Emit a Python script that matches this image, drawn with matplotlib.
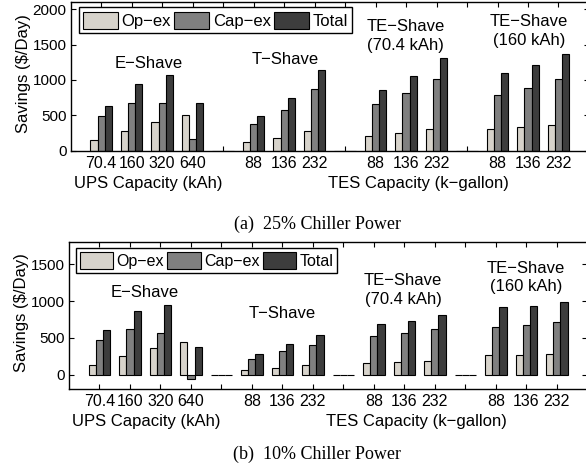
import matplotlib
matplotlib.use('Agg')
import matplotlib.pyplot as plt

plt.rcParams['font.family'] = ['Liberation Sans', 'DejaVu Sans']

# x positions 1..16, empty slots separate the schemes
tick_labels = ['70.4', '160', '320', '640', '', '88', '136', '232', '',
               '88', '136', '232', '', '88', '136', '232']
series_names = ['Op\u2212ex', 'Cap\u2212ex', 'Total']

# (a) 25% chiller power
op_a = [147, 274, 401, 505, 0, 119, 180, 274, 0, 208, 246, 307, 0, 307, 340, 368]
cap_a = [491, 670, 670, 165, 0, 378, 576, 872, 0, 660, 811, 1009, 0, 787, 886, 1009]
tot_a = [632, 943, 1066, 670, 0, 491, 745, 1141, 0, 858, 1056, 1306, 0, 1094, 1212, 1367]

# (b) 10% chiller power
op_b = [137, 252, 366, 439, 0, 59, 96, 128, 0, 156, 169, 183, 0, 265, 270, 279]
cap_b = [467, 618, 572, -65, 0, 210, 316, 407, 0, 526, 563, 622, 0, 654, 672, 709]
tot_b = [604, 869, 942, 375, 0, 279, 416, 540, 0, 686, 732, 814, 0, 924, 938, 984]

colors = ['#d7d3cb', '#808080', '#3d3d3d']
bar_w = 0.235


def draw_panel(ax, series, ylim, yticks, notes, leg_anchor, leg_size):
    x = list(range(1, len(tick_labels) + 1))
    bars = []
    for i, vals in enumerate(series):
        xs = [p + (i - 1) * bar_w for p in x]
        b = ax.bar(xs, vals, width=bar_w, color=colors[i],
                   edgecolor='black', linewidth=0.8, zorder=2)
        bars.append(b)
    ax.set_xlim(0, 17)
    ax.set_ylim(*ylim)
    ax.set_xticks(x)
    ax.set_xticklabels(tick_labels)
    ax.set_yticks(yticks)
    ax.tick_params(axis='both', direction='in', top=True, right=True,
                   length=3.6, width=0.8)
    ax.tick_params(axis='x', pad=3.5, labelsize=11.5)
    ax.tick_params(axis='y', pad=3, labelsize=11)
    for s in ax.spines.values():
        s.set_linewidth(1.0)

    for (nx, ny, txt) in notes:
        ax.text(nx, ny, txt, ha='center', va='center', fontsize=12,
                linespacing=1.3)

    ax.text(-0.0917, 0.52, 'Savings ($/Day)', rotation=90, ha='center',
            va='center', fontsize=12, transform=ax.transAxes)
    tr = ax.get_xaxis_transform()
    ax.text(2.54, -0.22, 'UPS Capacity (kAh)', ha='center', va='center',
            fontsize=12, transform=tr)
    ax.text(11.4, -0.22, 'TES Capacity (k\u2212gallon)', ha='center',
            va='center', fontsize=12, transform=tr)

    leg = ax.legend(bars, series_names, loc='upper left',
                    bbox_to_anchor=leg_anchor, borderaxespad=0, ncol=3,
                    fancybox=False, edgecolor='black', framealpha=1,
                    handlelength=2.1, handleheight=1.2, handletextpad=0.2,
                    columnspacing=0.2, borderpad=0.25, fontsize=leg_size)
    leg.get_frame().set_linewidth(1.0)


fig = plt.figure(figsize=(5.86, 4.71), dpi=100)

ax1 = fig.add_axes([0.1206, 0.680, 0.8845, 0.3157])
draw_panel(ax1, [op_a, cap_a, tot_a], (0, 2100), [0, 500, 1000, 1500, 2000],
           [(2.55, 1235, 'E\u2212Shave'),
            (7.05, 1287, 'T\u2212Shave'),
            (10.99, 1619, 'TE\u2212Shave\n(70.4 kAh)'),
            (15.03, 1688, 'TE\u2212Shave\n(160 kAh)')],
           (0.016, 0.964), 12)

ax2 = fig.add_axes([0.1177, 0.1735, 0.8845, 0.3121])
draw_panel(ax2, [op_b, cap_b, tot_b], (-200, 1800), [0, 500, 1000, 1500],
           [(2.49, 1118, 'E\u2212Shave'),
            (6.99, 837, 'T\u2212Shave'),
            (10.96, 1150, 'TE\u2212Shave\n(70.4 kAh)'),
            (14.98, 1321, 'TE\u2212Shave\n(160 kAh)')],
           (0.013, 0.959), 11.5)

fig.text(0.541, 0.524, '(a)  25% Chiller Power', ha='center', va='center',
         fontsize=13, family='Liberation Serif')
fig.text(0.541, 0.036, '(b)  10% Chiller Power', ha='center', va='center',
         fontsize=13, family='Liberation Serif')

fig.savefig('out.png', dpi=100)
